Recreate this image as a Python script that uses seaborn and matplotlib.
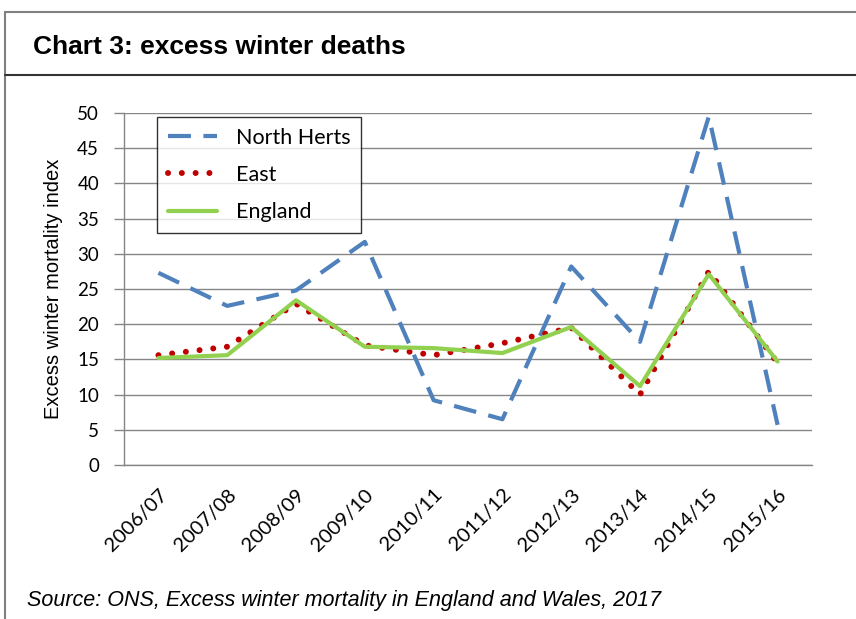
import matplotlib
matplotlib.use("Agg")
import matplotlib.pyplot as plt
import numpy as np
import seaborn as sns
from matplotlib.lines import Line2D
from matplotlib.ticker import FixedLocator

# Excess winter mortality index
seasons = ["2006/07", "2007/08", "2008/09", "2009/10", "2010/11",
           "2011/12", "2012/13", "2013/14", "2014/15", "2015/16"]
north_herts = [27.3, 22.6, 24.8, 31.7, 9.2, 6.5, 28.2, 17.5, 49.5, 5.7]
east = [15.6, 16.8, 22.9, 17.0, 15.6, 17.3, 19.5, 10.0, 27.5, 14.5]
england = [15.2, 15.6, 23.4, 16.8, 16.6, 15.9, 19.6, 11.2, 27.1, 14.7]

sns.set_style("white")
plt.rcParams["font.family"] = ["Liberation Sans", "DejaVu Sans"]
plt.rcParams["text.color"] = "black"
plt.rcParams["axes.labelcolor"] = "black"

calibri_like = ["Lato", "DejaVu Sans"]

fig = plt.figure(figsize=(8.56, 6.19), dpi=100)
ax = fig.add_axes([0.1449, 0.2488, 0.8037, 0.5686])

pos = np.arange(len(seasons))
sns.lineplot(x=pos, y=north_herts, ax=ax, color="#4F81BD", lw=3,
             label="North Herts")
sns.lineplot(x=pos, y=east, ax=ax, color="#C00000", lw=4.3,
             label="East")
sns.lineplot(x=pos, y=england, ax=ax, color="#92D050", lw=3,
             label="England")

lines = ax.get_lines()
lines[0].set_dashes([5.5, 3])
lines[0].set_dash_capstyle("butt")
lines[1].set_linestyle((0, (0.01, 2.3)))
lines[1].set_dash_capstyle("round")

ax.set_xlim(-0.5, len(seasons) - 0.5)
ax.set_ylim(0, 50)
ax.set_yticks(range(0, 51, 5))
ax.yaxis.grid(True, color="#868686", lw=1)
ax.set_axisbelow(True)

ax.set_xticks(pos)
ax.set_xticklabels(seasons, rotation=45, ha="right", rotation_mode="anchor",
                   fontsize=14.5, family=calibri_like)
for t in ax.get_yticklabels():
    t.set_family(calibri_like)
ax.xaxis.set_minor_locator(FixedLocator(np.arange(-0.5, len(seasons), 1)))
ax.tick_params(axis="x", which="major", length=0, pad=15, labelcolor="black")
ax.tick_params(axis="x", which="minor", length=7, color="#868686", width=1)
ax.tick_params(axis="y", length=7, color="#868686", width=1, labelsize=13.5,
               pad=11, left=True, labelcolor="black")

for s in ["top", "right"]:
    ax.spines[s].set_visible(False)
for s in ["left", "bottom"]:
    ax.spines[s].set_color("#868686")
    ax.spines[s].set_linewidth(1)

ax.set_ylabel("Excess winter mortality index", fontsize=14.5, labelpad=10)

leg = ax.legend(loc="upper left", bbox_to_anchor=(0.048, 0.989),
                borderaxespad=0, frameon=True, fancybox=False,
                edgecolor="black", handlelength=2.3, labelspacing=0.8,
                borderpad=0.5, handletextpad=0.85,
                prop={"family": calibri_like, "size": 15.5})
leg.get_frame().set_linewidth(1)

# frame and header band
fig.add_artist(Line2D([0.006, 1.0], [0.981, 0.981], color="#808080", lw=1.5))
fig.add_artist(Line2D([0.006, 0.006], [0.0, 0.981], color="#808080", lw=1.5))
fig.add_artist(Line2D([0.006, 1.0], [0.879, 0.879], color="#333333", lw=1.5))

fig.text(0.038, 0.924, "Chart 3: excess winter deaths", fontsize=19,
         fontweight="bold", va="center", ha="left")
fig.text(0.032, 0.03, "Source: ONS, Excess winter mortality in England and Wales, 2017",
         fontsize=15.5, style="italic", va="center", ha="left")

fig.savefig("out.png", dpi=100)
